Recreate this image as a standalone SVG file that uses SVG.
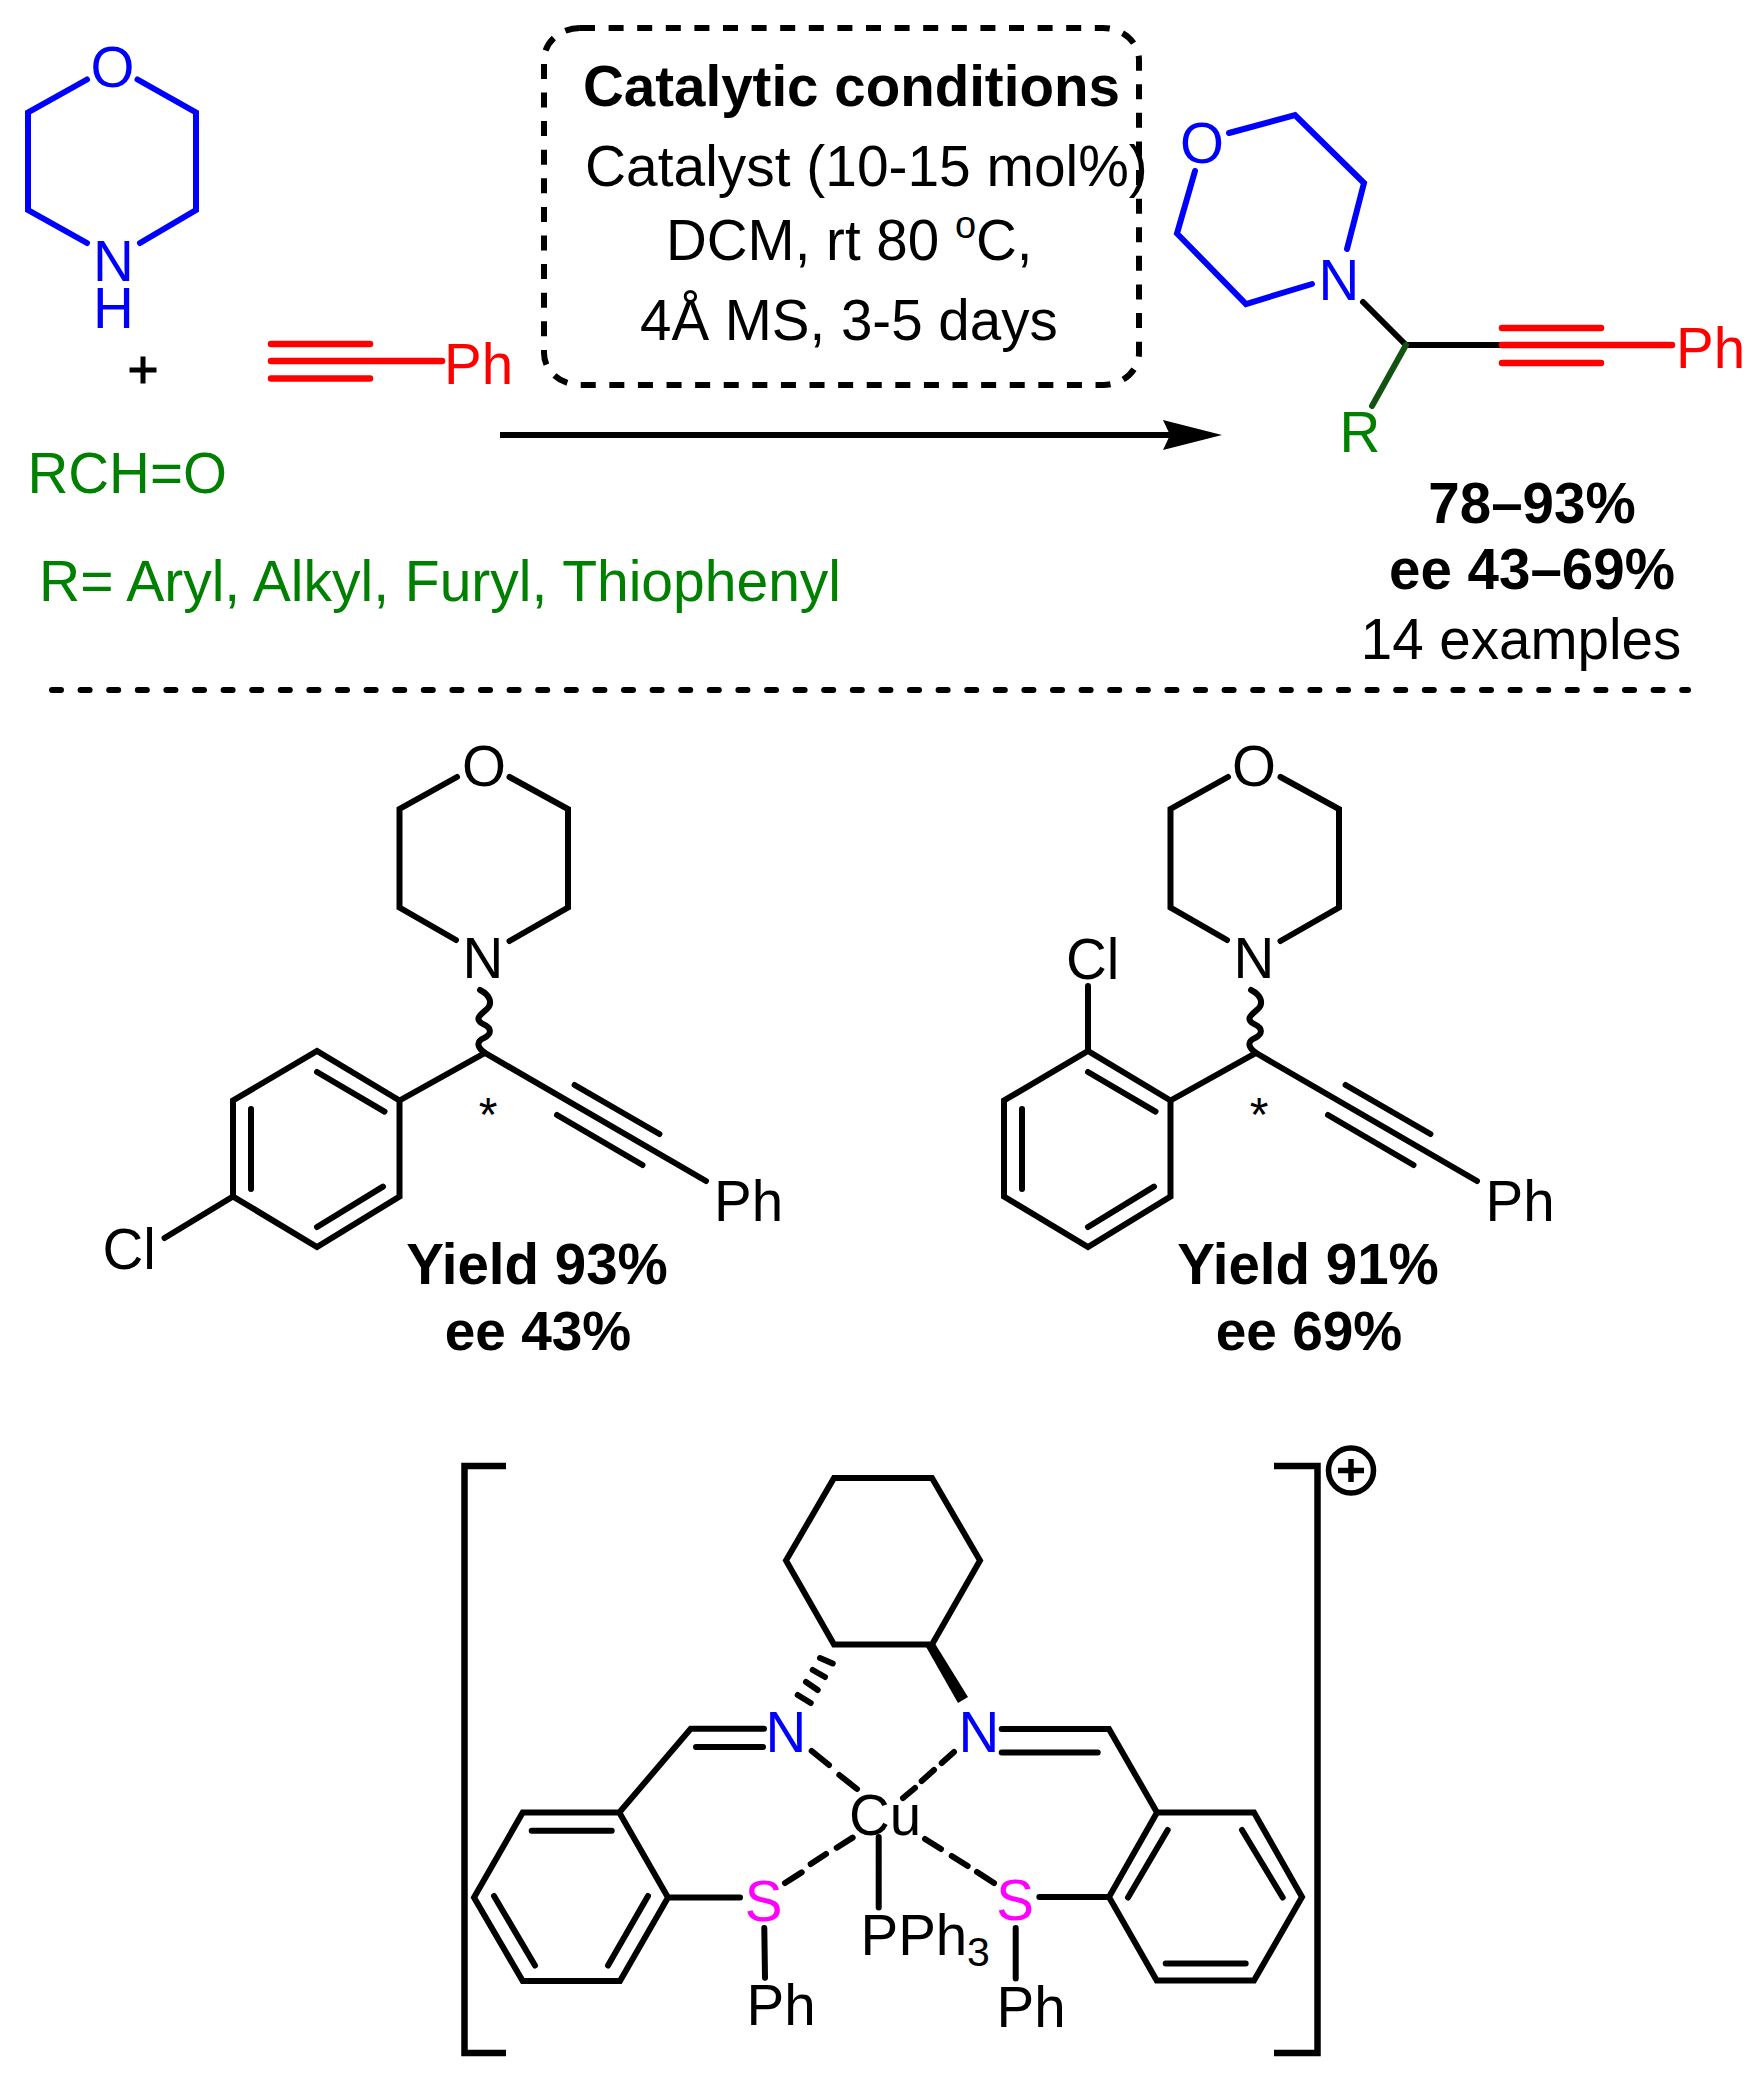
<svg xmlns="http://www.w3.org/2000/svg" width="1761" height="2073" viewBox="0 0 1761 2073">
<style>
text{font-family:"Liberation Sans",Arial,sans-serif;font-size:56.5px;fill:#000}
.b{font-weight:700}
.m{text-anchor:middle}
.blue{fill:#0000ff}.red{fill:#ff0000}.green{fill:#008000}.mag{fill:#ff00ff}
.k,.kb,.kr,.kg{fill:none;stroke-linecap:round;stroke-linejoin:miter;stroke-width:6px}
.k{stroke:#000}.kb{stroke:#0000ff}.kr{stroke:#ff0000;stroke-width:6.5px}.kg{stroke:#145214}
.sq{fill:none;stroke:#000;stroke-width:6.5px;stroke-linejoin:miter}
.dash{fill:none;stroke:#000;stroke-width:6px;stroke-dasharray:15 13.6}
.dots{fill:none;stroke:#000;stroke-width:6px;stroke-linecap:round;stroke-dasharray:9 19.6}
</style>
<defs>
<marker id="arrow" markerUnits="userSpaceOnUse" markerWidth="60" markerHeight="30" refX="59" refY="15" orient="auto">
<path d="M0 0L59 15L0 30L7 15Z" fill="#000"/>
</marker>
</defs>
<rect width="1761" height="2073" fill="#fff"/>
<g id="connectors">
<path id="reaction-arrow" d="M500 435H1222" fill="none" stroke="#000" stroke-width="6" stroke-dasharray="680 60" marker-end="url(#arrow)"/>
<path id="separator" class="dots" d="M52 690H1688"/>
</g>
<g id="morpholine">
<path class="kb" d="M87 79.5L28 112.5V210L87 243M137.5 79.5L196 112.5V210L140 243"/>
<text class="blue m" x="112.5" y="87">O</text>
<text class="blue m"><tspan x="113.5" y="281">N</tspan><tspan x="113.5" y="328">H</tspan></text>
</g>
<g id="plus"><path d="M129.5 370H156.5M143 356.5V383.5" fill="none" stroke="#000" stroke-width="5"/></g>
<g id="phenylacetylene">
<path class="kr" d="M271 344H370M271 361H442M271 378.500H370"/>
<text class="red" x="444" y="384">Ph</text>
</g>
<g id="aldehyde"><text class="green" x="27.500" y="493">RCH=O</text></g>
<g id="r-groups"><text class="green" x="39" y="601" style="font-size:57px">R= Aryl, Alkyl, Furyl, Thiophenyl</text></g>
<g id="conditions">
<rect class="dash" x="544" y="28" width="595" height="357" rx="36" ry="32"/>
<text class="b" x="583" y="106">Catalytic conditions</text>
<text x="585" y="186" style="font-size:56.9px">Catalyst (10-15 mol%)</text>
<text x="666" y="260">DCM, rt 80</text>
<text x="955" y="238" style="font-size:38px">o</text>
<text x="976" y="260">C,</text>
<text x="640" y="340">4Å MS, 3-5 days</text>
</g>
<g id="product">
<path class="kb" d="M1229 133L1295 115L1364 183L1347 249M1312 284L1246 304L1177 233.500L1195 171"/>
<path class="k" d="M1363 302L1406 345H1500"/>
<path class="kg" d="M1406 345L1372 406"/>
<path class="kr" d="M1502 328H1601M1502 345H1672M1502 363H1601"/>
<text class="blue m" x="1202" y="163">O</text>
<text class="blue m" x="1339" y="300">N</text>
<text class="green m" x="1360" y="452">R</text>
<text class="red" x="1676" y="368">Ph</text>
</g>
<g id="product-stats">
<text class="b m" x="1532" y="523">78–93%</text>
<text class="b m" x="1532" y="589">ee 43–69%</text>
<text class="m" x="1521" y="659">14 examples</text>
</g>
<g id="example-1">
<path class="k" d="M457 777L399.500 809V907.500L456 940M509.500 777L568 809V907.500L509.500 941"/>
<path class="k" d="M480 990C490 995 493 1003 487 1009C480 1015 474 1019 483 1024C492 1028 492 1034 484 1038C475 1042 478 1048 485 1053"/>
<path class="k" d="M399.500 1100.500L485 1053L706 1181M574.600 1085L659.400 1134M557 1115L642.500 1165"/>
<path class="k" d="M399.500 1100.500L317 1051L233 1100.500V1196.500L317 1247L399.500 1196.500ZM317 1072L384.500 1111.600M251 1109V1189M317 1227L383 1186.600M233 1196.500L164.500 1238"/>
<text class="m" x="484" y="786">O</text>
<text class="m" x="483" y="978">N</text>
<text class="m" x="488" y="1131" style="font-size:48px">*</text>
<text x="714" y="1221">Ph</text>
<text x="102.500" y="1269">Cl</text>
<text class="b m" x="537" y="1284">Yield 93%</text>
<text class="b m" x="538" y="1350" style="font-size:55px">ee 43%</text>
</g>
<g id="example-2" transform="translate(771 0)">
<path class="k" d="M457 777L399.500 809V907.500L456 940M509.500 777L568 809V907.500L509.500 941"/>
<path class="k" d="M480 990C490 995 493 1003 487 1009C480 1015 474 1019 483 1024C492 1028 492 1034 484 1038C475 1042 478 1048 485 1053"/>
<path class="k" d="M399.500 1100.500L485 1053L706 1181M574.600 1085L659.400 1134M557 1115L642.500 1165"/>
<path class="k" d="M399.500 1100.500L317 1051L233 1100.500V1196.500L317 1247L399.500 1196.500ZM317 1072L384.500 1111.600M251 1109V1189M317 1227L383 1186.600M317 1051V986"/>
<text class="m" x="483" y="786">O</text>
<text class="m" x="483" y="978">N</text>
<text class="m" x="488" y="1131" style="font-size:48px">*</text>
<text x="714.500" y="1221">Ph</text>
<text x="295" y="979">Cl</text>
<text class="b m" x="537" y="1284">Yield 91%</text>
<text class="b m" x="538" y="1350" style="font-size:55px">ee 69%</text>
</g>
<g id="catalyst">
<path class="sq" d="M506 1466H464.500V2053H506"/>
<path class="sq" d="M1274 1466H1317.500V2053H1274"/>
<g id="charge"><ellipse cx="1351" cy="1470.500" rx="22.500" ry="22.500" fill="none" stroke="#000" stroke-width="5.5"/><path d="M1338 1470.500H1364M1351 1459V1482" fill="none" stroke="#000" stroke-width="5.5"/></g>
<path class="k" d="M834 1478H932L980 1560.600L932 1644.500H834L786 1560.600Z"/>
<path class="k" d="M820 1658L832.700 1663.500M812.700 1670L825 1677M806 1682L817.700 1690M797.700 1695L810.700 1703"/>
<path d="M925 1645L934 1642L968 1697L958 1703Z" fill="#000"/>
<path class="k" d="M764 1728.700H690.700L619.300 1812.500H522.700L474 1897.500L522.700 1981H620L668 1897.500H740M619.300 1812.500L668 1897.500M763 1747H696M531.700 1830.700H611.700M494 1896L535 1965.500M648 1896L608 1965.500M764.300 1928L765 1977.700"/>
<path class="k" d="M1001.700 1729H1109L1157 1812.500H1254L1302 1897L1254 1980.500H1156.700L1109 1897H1039.300M1157 1812.500L1109 1897M1001.700 1752.500H1097.700M1167.700 1830L1128 1897.500M1242 1830L1282.700 1897.500M1165.700 1963.500H1245.700M1015.700 1928V1978.500"/>
<path class="k" d="M811.700 1751L829 1765M839.300 1775L857 1789M852.700 1837.600L836.700 1847.700M826 1854L810.700 1864M801.700 1872.400L785 1883M954 1752L941.700 1763M934 1770L921.700 1781M915 1788L903 1798M925 1839L941 1849M951.700 1856L967.700 1866M977 1872L994 1883M878.700 1837V1907.600"/>
<text class="blue m" x="786" y="1752">N</text>
<text class="blue m" x="979" y="1752">N</text>
<text class="mag m" x="763.500" y="1921">S</text>
<text class="mag m" x="1015" y="1920">S</text>
<text class="m" x="885" y="1835">Cu</text>
<text x="860.500" y="1955">PPh</text>
<text x="967" y="1966" style="font-size:41px">3</text>
<text x="746.500" y="2025">Ph</text>
<text x="996.500" y="2027">Ph</text>
</g>
</svg>
